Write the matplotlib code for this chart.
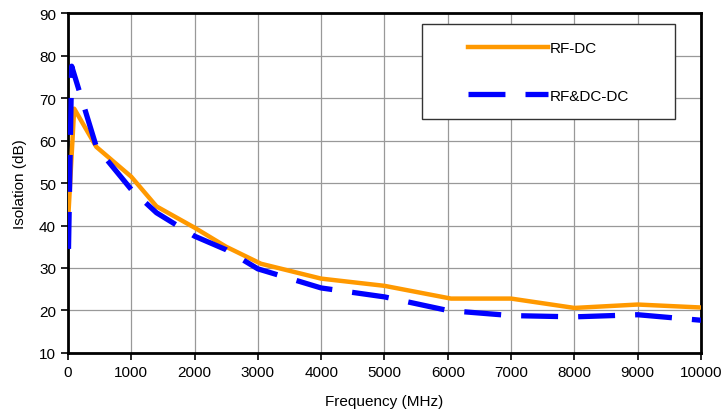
import matplotlib
matplotlib.use("Agg")
import matplotlib.pyplot as plt
from matplotlib.patches import Rectangle

plt.rcParams['font.family'] = ['Liberation Sans', 'DejaVu Sans']

# RF-DC isolation
rf_freq = [10, 100, 450, 1000, 1400, 2000, 2500, 3050, 4000, 5000, 6050, 7000, 8000, 9000, 10000]
rf_iso = [43, 67.5, 58.5, 51.5, 44.5, 39.5, 35, 31, 27.5, 25.8, 22.8, 22.8, 20.6, 21.4, 20.7]

# RF&DC-DC isolation
rfdc_freq = [10, 60, 450, 1000, 1400, 2000, 2500, 3000, 4000, 5000, 6000, 7000, 8000, 9000, 10000]
rfdc_iso = [34.5, 77.5, 58.5, 48.5, 43, 37.5, 34.3, 29.8, 25.3, 23.2, 20, 18.8, 18.5, 19, 17.7]

xticks = list(range(0, 10001, 1000))
yticks = list(range(10, 91, 10))

fig = plt.figure(figsize=(7.22, 4.14), dpi=100)
ax = fig.add_axes([0.094, 0.145, 0.877, 0.821])

ax.plot(rf_freq, rf_iso, color='#FF9900', lw=3.2, label='RF-DC',
        solid_joinstyle='round', zorder=3)
ax.plot(rfdc_freq, rfdc_iso, color='#0000FF', lw=3.8, label='RF&DC-DC',
        dashes=(7, 3.8), dash_capstyle='butt', zorder=3)

ax.set_xlim(0, 10000)
ax.set_ylim(10, 90)
ax.set_xticks(xticks)
ax.set_yticks(yticks)
ax.tick_params(labelsize=11, direction='out', length=5, width=1.2, colors='black')
ax.grid(True, color='#999999', lw=0.9)
ax.set_axisbelow(True)
for s in ax.spines.values():
    s.set_linewidth(2)
    s.set_color('black')

ax.set_xlabel('Frequency (MHz)', fontsize=11, labelpad=11)
ax.set_ylabel('Isolation (dB)', fontsize=11, labelpad=9)

# legend box
bx, by, bw, bh = 0.559, 0.687, 0.40, 0.281
ax.add_patch(Rectangle((bx, by), bw, bh, transform=ax.transAxes,
                       facecolor='white', edgecolor='#333333', lw=1, zorder=4))
leg = ax.legend(loc='center', bbox_to_anchor=(bx, by, bw, bh), frameon=False,
                fontsize=11, handlelength=5.2, handletextpad=0.1, labelspacing=2.2)
leg.set_zorder(5)

fig.savefig('out.png', dpi=100)
